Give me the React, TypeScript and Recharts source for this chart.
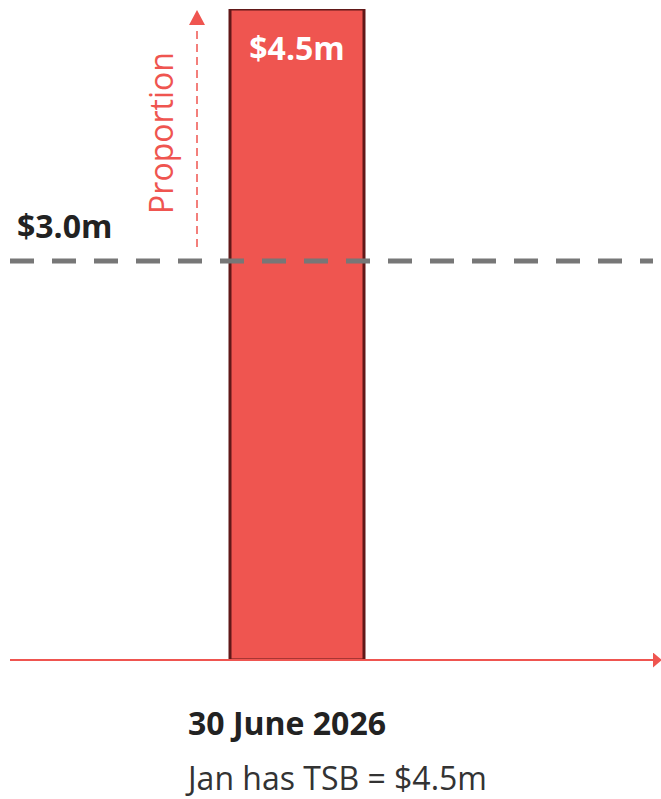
import { Bar, BarChart, LabelList, ReferenceLine, XAxis, YAxis } from "recharts";

const categories = ["30 June 2026"];
const balances = [4.5];
const notes = ["Jan has TSB = $4.5m"];
const threshold = 3.0;
const axisTitle = "Proportion";

const RED = "#ef5550";
const FONT = "'Open Sans', sans-serif";

const data = categories.map((name, i) => ({ name, value: balances[i], note: notes[i] }));

const money = (v: number) => `$${v.toFixed(1)}m`;

function DateTick(props: any) {
  const { x, y, payload, index } = props;
  const left = x - 109;
  return (
    <g>
      <text x={left} y={y + 67} fill="#222" fontFamily={FONT} fontWeight={700} fontSize={32}>
        {payload.value}
      </text>
      <text x={left} y={y + 122} fill="#333" fontFamily={FONT} fontSize={32}>
        {data[index ?? 0].note}
      </text>
    </g>
  );
}

function ThresholdLabel(props: any) {
  const { viewBox } = props;
  return (
    <text x={viewBox.x + 7} y={viewBox.y - 23} fill="#222" fontFamily={FONT} fontWeight={700} fontSize={32}>
      {money(threshold)}
    </text>
  );
}

export default function App() {
  return (
    <div style={{ position: "absolute", left: 0, top: 0, width: 661, height: 799, background: "#fff" }}>
      <BarChart width={661} height={799} data={data} margin={{ top: 9, right: 8, bottom: 0, left: 10 }}>
        <defs>
          <marker id="xArrow" viewBox="0 0 10 10" refX="0" refY="5" markerWidth="9" markerHeight="15" markerUnits="userSpaceOnUse" orient="auto" preserveAspectRatio="none">
            <path d="M0,0 L10,5 L0,10 z" fill={RED} />
          </marker>
        </defs>
        <XAxis
          dataKey="name"
          height={139}
          padding={{ left: 150, right: 219 }}
          axisLine={{ stroke: RED, strokeWidth: 2, markerEnd: "url(#xArrow)" }}
          tickLine={false}
          tick={<DateTick />}
          interval={0}
        />
        <YAxis hide domain={[0.625, 4.5]} allowDataOverflow />
        <ReferenceLine
          y={threshold}
          stroke="#777"
          strokeWidth={5}
          strokeDasharray="24 18"
          label={<ThresholdLabel />}
        />
        <Bar dataKey="value" barSize={134} fill={RED} stroke="#611818" strokeWidth={3} isAnimationActive={false}>
          <LabelList
            dataKey="value"
            position="insideTop"
            offset={28}
            formatter={(v: any) => money(Number(v))}
            fill="#fff"
            fontFamily={FONT}
            fontWeight={700}
            fontSize={32}
          />
        </Bar>
        <line x1={197} y1={247} x2={197} y2={26} stroke={RED} strokeWidth={1.5} strokeDasharray="8 5" />
        <path d="M189,25 L197,10 L205,25 z" fill={RED} />
        <text
          x={173}
          y={133}
          transform="rotate(-90 173 133)"
          textAnchor="middle"
          fill={RED}
          fontFamily={FONT}
          fontSize={32}
        >
          {axisTitle}
        </text>
      </BarChart>
    </div>
  );
}
